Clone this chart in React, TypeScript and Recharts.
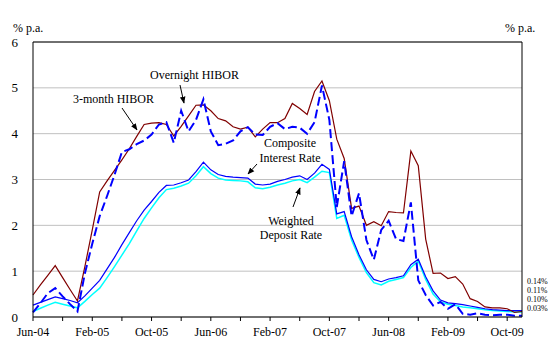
import { LineChart, Line, XAxis, YAxis, CartesianGrid, ReferenceLine } from 'recharts';

const months = [
  'Jun-04', 'Jul-04', 'Aug-04', 'Sep-04', 'Oct-04', 'Nov-04', 'Dec-04',
  'Jan-05', 'Feb-05', 'Mar-05', 'Apr-05', 'May-05', 'Jun-05', 'Jul-05', 'Aug-05', 'Sep-05', 'Oct-05', 'Nov-05', 'Dec-05',
  'Jan-06', 'Feb-06', 'Mar-06', 'Apr-06', 'May-06', 'Jun-06', 'Jul-06', 'Aug-06', 'Sep-06', 'Oct-06', 'Nov-06', 'Dec-06',
  'Jan-07', 'Feb-07', 'Mar-07', 'Apr-07', 'May-07', 'Jun-07', 'Jul-07', 'Aug-07', 'Sep-07', 'Oct-07', 'Nov-07', 'Dec-07',
  'Jan-08', 'Feb-08', 'Mar-08', 'Apr-08', 'May-08', 'Jun-08', 'Jul-08', 'Aug-08', 'Sep-08', 'Oct-08', 'Nov-08', 'Dec-08',
  'Jan-09', 'Feb-09', 'Mar-09', 'Apr-09', 'May-09', 'Jun-09', 'Jul-09', 'Aug-09', 'Sep-09', 'Oct-09', 'Nov-09', 'Dec-09',
];

const labeledMonths = ['Jun-04', 'Feb-05', 'Oct-05', 'Jun-06', 'Feb-07', 'Oct-07', 'Jun-08', 'Feb-09', 'Oct-09'];

const threeMonthHibor = [
  0.48, 0.70, 0.91, 1.12, 0.86, 0.60, 0.35, 1.10, 1.90, 2.73, 2.97, 3.20, 3.43, 3.67, 3.94, 4.20, 4.23, 4.24, 4.20,
  3.95, 4.16, 4.39, 4.62, 4.63, 4.50, 4.33, 4.28, 4.15, 4.10, 4.14, 3.93, 4.10, 4.24, 4.24, 4.33, 4.66, 4.55, 4.42,
  4.92, 5.15, 4.72, 3.88, 3.46, 2.37, 2.42, 2.00, 2.08, 1.99, 2.30, 2.28, 2.27, 3.62, 3.30, 1.70, 0.95, 0.96, 0.84,
  0.88, 0.72, 0.40, 0.34, 0.22, 0.20, 0.20, 0.18, 0.10, 0.12,
];

const overnightHibor = [
  0.10, 0.30, 0.52, 0.63, 0.45, 0.28, 0.12, 0.95, 1.60, 2.20, 2.64, 3.10, 3.60, 3.66, 3.77, 3.85, 3.98, 4.20, 4.25,
  3.80, 4.50, 4.05, 4.30, 4.75, 4.05, 3.75, 3.78, 3.85, 4.05, 4.14, 3.98, 3.97, 4.15, 4.23, 4.10, 4.15, 4.13, 4.00,
  4.25, 5.05, 4.30, 2.40, 3.40, 2.20, 2.70, 1.68, 1.25, 1.90, 2.10, 1.70, 1.66, 2.50, 0.80, 0.48, 0.25, 0.33, 0.18,
  0.28, 0.07, 0.05, 0.08, 0.05, 0.04, 0.05, 0.05, 0.03, 0.03,
];

const compositeRate = [
  0.26, 0.32, 0.38, 0.44, 0.40, 0.36, 0.31, 0.46, 0.63, 0.80, 1.05, 1.30, 1.58, 1.84, 2.10, 2.33, 2.52, 2.72, 2.87,
  2.88, 2.93, 2.99, 3.17, 3.38, 3.21, 3.11, 3.07, 3.05, 3.04, 3.03, 2.90, 2.88, 2.90, 2.96, 3.00, 3.05, 3.08, 3.00,
  3.14, 3.33, 3.22, 2.25, 2.30, 1.75, 1.36, 1.03, 0.82, 0.77, 0.83, 0.86, 0.90, 1.14, 1.26, 0.88, 0.57, 0.37, 0.31,
  0.29, 0.27, 0.24, 0.21, 0.18, 0.16, 0.15, 0.14, 0.14, 0.14,
];

const depositRate = [
  0.12, 0.19, 0.26, 0.32, 0.28, 0.24, 0.20, 0.34, 0.49, 0.63, 0.86, 1.10, 1.35, 1.60, 1.88, 2.15, 2.38, 2.60, 2.78,
  2.81, 2.86, 2.92, 3.08, 3.28, 3.13, 3.03, 2.99, 2.98, 2.97, 2.95, 2.82, 2.80, 2.83, 2.88, 2.92, 2.97, 3.00, 2.93,
  3.05, 3.18, 3.15, 2.15, 2.22, 1.68, 1.30, 0.97, 0.75, 0.70, 0.78, 0.82, 0.86, 1.08, 1.22, 0.82, 0.50, 0.33, 0.28,
  0.25, 0.22, 0.20, 0.18, 0.16, 0.14, 0.13, 0.12, 0.11, 0.11,
];

const yTicks = [0, 1, 2, 3, 4, 5, 6];
const endLabels = ['0.14%', '0.11%', '0.10%', '0.03%'];

const data = months.map((month, i) => ({
  month,
  threeMonth: threeMonthHibor[i],
  overnight: overnightHibor[i],
  composite: compositeRate[i],
  deposit: depositRate[i],
}));

const font = 'Liberation Serif';
const textStyle = { fontFamily: font };

const RightTick = (props: any) => {
  const { x, y, payload } = props;
  return (
    <g>
      <line x1={x - 13} y1={y} x2={x - 8} y2={y} stroke="#000" />
      <text x={x} y={y} dy={4} textAnchor="start" fontSize={12} style={textStyle} fill="#000">
        {payload.value}
      </text>
    </g>
  );
};

const App = () => {
  return (
    <div style={{ position: 'absolute', left: 0, top: 0, width: 560, height: 351, background: '#fff', fontFamily: font }}>
      <LineChart width={560} height={351} data={data} margin={{ top: 42, right: 8, bottom: 8, left: 8 }}>
        <CartesianGrid vertical={false} stroke="#c0c0c0" yAxisId="left" />
        <XAxis
          dataKey="month"
          interval={3}
          height={26}
          tickFormatter={(v: string) => (labeledMonths.includes(v) ? v : '')}
          axisLine={{ stroke: '#000' }}
          tickLine={{ stroke: '#000' }}
          tickSize={4}
          tickMargin={6}
          tick={{ fill: '#000', fontSize: 12, style: textStyle }}
        />
        <YAxis
          yAxisId="left"
          domain={[0, 6]}
          ticks={yTicks}
          width={25}
          axisLine={{ stroke: '#000' }}
          tickLine={false}
          tickSize={6}
          tickMargin={9}
          tick={{ fill: '#000', fontSize: 13, style: textStyle }}
        />
        <YAxis
          yAxisId="right"
          orientation="right"
          domain={[0, 6]}
          ticks={yTicks}
          width={30}
          axisLine={{ stroke: '#000' }}
          tickLine={false}
          tickSize={0}
          tickMargin={8}
          tick={<RightTick />}
        />
        <ReferenceLine y={6} yAxisId="left" stroke="#000" />
        <Line yAxisId="left" dataKey="deposit" stroke="#00ffff" strokeWidth={1.5} dot={false} isAnimationActive={false} />
        <Line yAxisId="left" dataKey="composite" stroke="#0000ff" strokeWidth={1.2} dot={false} isAnimationActive={false} />
        <Line yAxisId="left" dataKey="threeMonth" stroke="#800000" strokeWidth={1.2} dot={false} isAnimationActive={false} />
        <Line
          yAxisId="left"
          dataKey="overnight"
          stroke="#0000ff"
          strokeWidth={2}
          strokeDasharray="9 4"
          dot={false}
          isAnimationActive={false}
        />
      </LineChart>
      <svg
        width={560}
        height={351}
        style={{ position: 'absolute', left: 0, top: 0, pointerEvents: 'none', fontFamily: font }}
        fontSize={12}
      >
        <defs>
          <marker id="arrow" viewBox="0 0 10 10" refX="9" refY="5" markerWidth="7" markerHeight="7" orient="auto">
            <path d="M0,1 L10,5 L0,9 z" fill="#000" />
          </marker>
        </defs>
        <text x={13} y={32}>% p.a.</text>
        <text x={505} y={32}>% p.a.</text>

        <text x={150} y={79}>Overnight HIBOR</text>
        <line x1={180} y1={85} x2={184} y2={103} stroke="#000" markerEnd="url(#arrow)" />

        <text x={73} y={103}>3-month HIBOR</text>
        <line x1={122} y1={108} x2={137} y2={130} stroke="#000" markerEnd="url(#arrow)" />

        <text x={290} y={147} textAnchor="middle">Composite</text>
        <text x={290} y={162} textAnchor="middle">Interest Rate</text>
        <line x1={257} y1={164} x2={248} y2={174} stroke="#000" markerEnd="url(#arrow)" />

        <text x={291} y={225} textAnchor="middle">Weighted</text>
        <text x={291} y={239} textAnchor="middle">Deposit Rate</text>
        <line x1={293} y1={207} x2={300} y2={188} stroke="#000" markerEnd="url(#arrow)" />

        {endLabels.map((label, i) => (
          <text key={label} x={527} y={[284, 293, 302, 311][i]} fontSize={8}>
            {label}
          </text>
        ))}
      </svg>
    </div>
  );
};

export default App;
